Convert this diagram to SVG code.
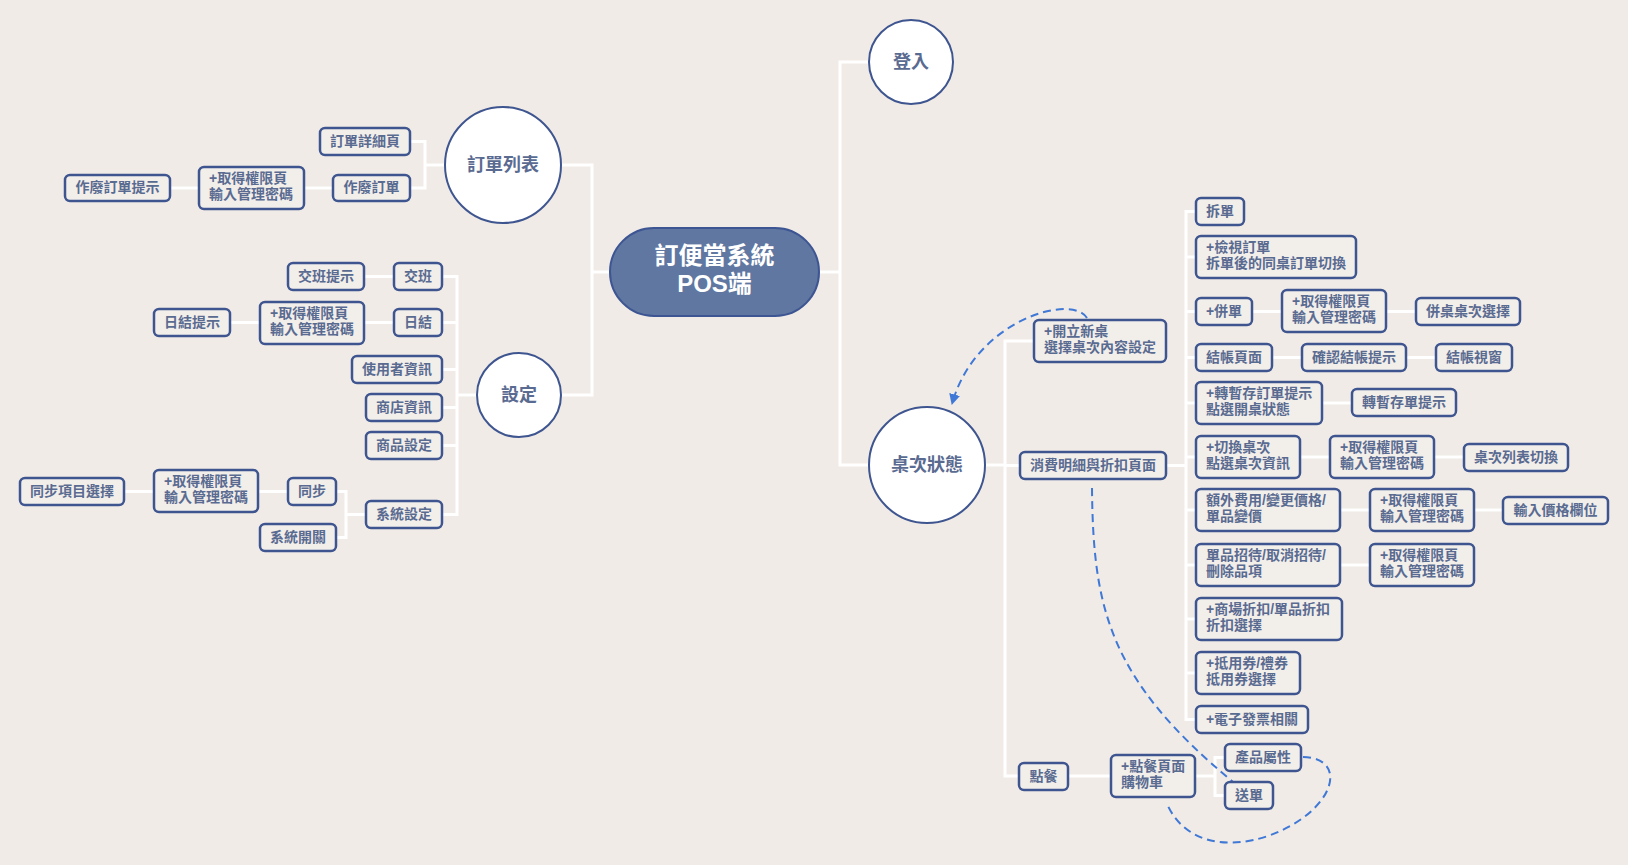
<svg xmlns="http://www.w3.org/2000/svg" width="1628" height="865" viewBox="0 0 1628 865">
<style>
.bg{fill:#f0ebe6}
.conn path{stroke:#ffffff;stroke-width:3;fill:none}
.rel path.dash{stroke:#3f78d6;stroke-width:2;fill:none;stroke-dasharray:8 5}
.box rect{fill:#f2efeb;stroke:#3e5590;stroke-width:2.5}
.cir circle{fill:#ffffff;stroke:#3e5590;stroke-width:2}
text{font-family:"Liberation Sans","Noto Sans CJK TC","Noto Sans CJK SC",sans-serif;font-weight:bold;fill:#5a6b91}
.t{font-size:14px}
.m{text-anchor:middle}
.ct{font-size:18px;text-anchor:middle}
.mt{font-size:24px;text-anchor:middle;fill:#ffffff}
</style>
<defs>
<marker id="arr" viewBox="0 0 10 10" refX="9" refY="5" markerWidth="11" markerHeight="11" orient="auto" markerUnits="userSpaceOnUse">
<path d="M0,0 L10,5 L0,10 z" fill="#3f78d6"/>
</marker>
</defs>
<rect class="bg" x="0" y="0" width="1628" height="865"/>

<g class="conn" id="connectors">
<path d="M561,165 H592 V395 H561"/>
<path d="M610,272 H592"/>
<path d="M445,165 H425"/>
<path d="M410,141.5 H425 V188 H410"/>
<path d="M333,188 H304"/>
<path d="M199,188 H170"/>
<path d="M477,395 H457"/>
<path d="M442,276.5 H457 V514.5 H442"/>
<path d="M442,322.5 H457"/>
<path d="M442,369.5 H457"/>
<path d="M442,407.5 H457"/>
<path d="M442,445.5 H457"/>
<path d="M364,276.5 H394"/>
<path d="M230,322.5 H260"/>
<path d="M364,322.5 H394"/>
<path d="M366,514.5 H346"/>
<path d="M336,491.5 H346 V537.5 H336"/>
<path d="M258,491.5 H288"/>
<path d="M124,491.5 H154"/>
<path d="M869,62 H840 V465 H869"/>
<path d="M819,272 H840"/>
<path d="M985,465 H1005"/>
<path d="M1034,341 H1005 V776 H1019"/>
<path d="M1020,465.5 H1005"/>
<path d="M1166,465.5 H1186"/>
<path d="M1196,211.5 H1186 V719.5 H1196"/>
<path d="M1186,257 H1196"/>
<path d="M1186,311.5 H1196"/>
<path d="M1186,357.5 H1196"/>
<path d="M1186,403 H1196"/>
<path d="M1186,457 H1196"/>
<path d="M1186,510 H1196"/>
<path d="M1186,565 H1196"/>
<path d="M1186,619 H1196"/>
<path d="M1186,673 H1196"/>
<path d="M1252,311.5 H1282"/>
<path d="M1386,311.5 H1416"/>
<path d="M1272,357.5 H1302"/>
<path d="M1406,357.5 H1436"/>
<path d="M1322,403 H1352"/>
<path d="M1300,457 H1330"/>
<path d="M1434,457 H1464"/>
<path d="M1340,510 H1370"/>
<path d="M1474,510 H1503"/>
<path d="M1340,565 H1370"/>
<path d="M1068,776 H1111"/>
<path d="M1195,776 H1215"/>
<path d="M1225,757.5 H1215 V795.5 H1225"/>
</g>

<g class="rel" id="relations">
<path class="dash" d="M1087,318 C1072,293 975,320 952,404" marker-end="url(#arr)"/>
<path class="dash" d="M1092,488 C1093,610 1110,680 1233,782"/>
<path class="dash" d="M1303,757 C1350,758 1335,812 1268,836 C1220,852 1183,838 1168,806"/>
</g>

<g id="main">
<rect x="610" y="228" width="209" height="88" rx="44" fill="#5f77a1" stroke="#3d5592" stroke-width="2"/>
<text class="mt" x="714.5" y="264">訂便當系統<tspan x="714.5" dy="28">POS端</tspan></text>
</g>

<g id="n-orderlist" class="cir"><circle cx="503" cy="165" r="58"/><text class="ct" x="503" y="171">訂單列表</text></g>
<g id="n-settings" class="cir"><circle cx="519" cy="395" r="42"/><text class="ct" x="519" y="401">設定</text></g>
<g id="n-login" class="cir"><circle cx="911" cy="62" r="42"/><text class="ct" x="911" y="68">登入</text></g>
<g id="n-table" class="cir"><circle cx="927" cy="465" r="58"/><text class="ct" x="927" y="471">桌次狀態</text></g>

<g id="n-orderdetail" class="box"><rect x="320" y="128" width="90" height="27" rx="5"/><text class="t m" x="365" y="146">訂單詳細頁</text></g>
<g id="n-void" class="box"><rect x="333" y="175" width="77" height="26" rx="5"/><text class="t m" x="371.5" y="192">作廢訂單</text></g>
<g id="n-void-auth" class="box"><rect x="199" y="167" width="105" height="42" rx="5"/><text class="t" x="209" y="183">+取得權限頁<tspan x="209" dy="16">輸入管理密碼</tspan></text></g>
<g id="n-void-hint" class="box"><rect x="65" y="175" width="105" height="26" rx="5"/><text class="t m" x="117.5" y="192">作廢訂單提示</text></g>

<g id="n-shift" class="box"><rect x="394" y="263" width="48" height="27" rx="5"/><text class="t m" x="418" y="281">交班</text></g>
<g id="n-shift-hint" class="box"><rect x="288" y="263" width="76" height="27" rx="5"/><text class="t m" x="326" y="281">交班提示</text></g>
<g id="n-daily" class="box"><rect x="394" y="309" width="48" height="27" rx="5"/><text class="t m" x="418" y="327">日結</text></g>
<g id="n-daily-auth" class="box"><rect x="260" y="302" width="104" height="42" rx="5"/><text class="t" x="270" y="318">+取得權限頁<tspan x="270" dy="16">輸入管理密碼</tspan></text></g>
<g id="n-daily-hint" class="box"><rect x="154" y="309" width="76" height="27" rx="5"/><text class="t m" x="192" y="327">日結提示</text></g>
<g id="n-user" class="box"><rect x="352" y="356" width="90" height="27" rx="5"/><text class="t m" x="397" y="374">使用者資訊</text></g>
<g id="n-store" class="box"><rect x="366" y="394" width="76" height="27" rx="5"/><text class="t m" x="404" y="412">商店資訊</text></g>
<g id="n-product" class="box"><rect x="366" y="432" width="76" height="27" rx="5"/><text class="t m" x="404" y="450">商品設定</text></g>
<g id="n-system" class="box"><rect x="366" y="501" width="76" height="27" rx="5"/><text class="t m" x="404" y="519">系統設定</text></g>
<g id="n-sync" class="box"><rect x="288" y="478" width="48" height="27" rx="5"/><text class="t m" x="312" y="496">同步</text></g>
<g id="n-switch" class="box"><rect x="260" y="524" width="76" height="27" rx="5"/><text class="t m" x="298" y="542">系統開關</text></g>
<g id="n-sync-auth" class="box"><rect x="154" y="470" width="104" height="42" rx="5"/><text class="t" x="164" y="486">+取得權限頁<tspan x="164" dy="16">輸入管理密碼</tspan></text></g>
<g id="n-sync-select" class="box"><rect x="20" y="478" width="104" height="27" rx="5"/><text class="t m" x="72" y="496">同步項目選擇</text></g>

<g id="n-newtable" class="box"><rect x="1034" y="320" width="132" height="42" rx="5"/><text class="t" x="1044" y="336">+開立新桌<tspan x="1044" dy="16">選擇桌次內容設定</tspan></text></g>
<g id="n-detail" class="box"><rect x="1020" y="452" width="146" height="27" rx="5"/><text class="t m" x="1093" y="470">消費明細與折扣頁面</text></g>
<g id="n-order" class="box"><rect x="1019" y="763" width="49" height="27" rx="5"/><text class="t m" x="1043.5" y="781">點餐</text></g>
<g id="n-cart" class="box"><rect x="1111" y="755" width="84" height="42" rx="5"/><text class="t" x="1121" y="771">+點餐頁面<tspan x="1121" dy="16">購物車</tspan></text></g>
<g id="n-attr" class="box"><rect x="1225" y="744" width="76" height="27" rx="5"/><text class="t m" x="1263" y="762">產品屬性</text></g>
<g id="n-send" class="box"><rect x="1225" y="782" width="48" height="27" rx="5"/><text class="t m" x="1249" y="800">送單</text></g>

<g id="n-split" class="box"><rect x="1196" y="198" width="48" height="27" rx="5"/><text class="t m" x="1220" y="216">拆單</text></g>
<g id="n-view" class="box"><rect x="1196" y="236" width="160" height="42" rx="5"/><text class="t" x="1206" y="252">+檢視訂單<tspan x="1206" dy="16">拆單後的同桌訂單切換</tspan></text></g>
<g id="n-merge" class="box"><rect x="1196" y="298" width="56" height="27" rx="5"/><text class="t m" x="1224" y="316">+併單</text></g>
<g id="n-merge-auth" class="box"><rect x="1282" y="290" width="104" height="42" rx="5"/><text class="t" x="1292" y="306">+取得權限頁<tspan x="1292" dy="16">輸入管理密碼</tspan></text></g>
<g id="n-merge-select" class="box"><rect x="1416" y="298" width="104" height="27" rx="5"/><text class="t m" x="1468" y="316">併桌桌次選擇</text></g>
<g id="n-checkout" class="box"><rect x="1196" y="344" width="76" height="27" rx="5"/><text class="t m" x="1234" y="362">結帳頁面</text></g>
<g id="n-checkout-confirm" class="box"><rect x="1302" y="344" width="104" height="27" rx="5"/><text class="t m" x="1354" y="362">確認結帳提示</text></g>
<g id="n-checkout-win" class="box"><rect x="1436" y="344" width="76" height="27" rx="5"/><text class="t m" x="1474" y="362">結帳視窗</text></g>
<g id="n-hold" class="box"><rect x="1196" y="382" width="126" height="42" rx="5"/><text class="t" x="1206" y="398">+轉暫存訂單提示<tspan x="1206" dy="16">點選開桌狀態</tspan></text></g>
<g id="n-hold-hint" class="box"><rect x="1352" y="389" width="104" height="27" rx="5"/><text class="t m" x="1404" y="407">轉暫存單提示</text></g>
<g id="n-change" class="box"><rect x="1196" y="436" width="104" height="42" rx="5"/><text class="t" x="1206" y="452">+切換桌次<tspan x="1206" dy="16">點選桌次資訊</tspan></text></g>
<g id="n-change-auth" class="box"><rect x="1330" y="436" width="104" height="42" rx="5"/><text class="t" x="1340" y="452">+取得權限頁<tspan x="1340" dy="16">輸入管理密碼</tspan></text></g>
<g id="n-change-list" class="box"><rect x="1464" y="444" width="104" height="27" rx="5"/><text class="t m" x="1516" y="462">桌次列表切換</text></g>
<g id="n-extra" class="box"><rect x="1196" y="489" width="144" height="42" rx="5"/><text class="t" x="1206" y="505">額外費用/變更價格/<tspan x="1206" dy="16">單品變價</tspan></text></g>
<g id="n-extra-auth" class="box"><rect x="1370" y="489" width="104" height="42" rx="5"/><text class="t" x="1380" y="505">+取得權限頁<tspan x="1380" dy="16">輸入管理密碼</tspan></text></g>
<g id="n-price" class="box"><rect x="1503" y="497" width="105" height="27" rx="5"/><text class="t m" x="1555.5" y="515">輸入價格欄位</text></g>
<g id="n-comp" class="box"><rect x="1196" y="544" width="144" height="42" rx="5"/><text class="t" x="1206" y="560">單品招待/取消招待/<tspan x="1206" dy="16">刪除品項</tspan></text></g>
<g id="n-comp-auth" class="box"><rect x="1370" y="544" width="104" height="42" rx="5"/><text class="t" x="1380" y="560">+取得權限頁<tspan x="1380" dy="16">輸入管理密碼</tspan></text></g>
<g id="n-discount" class="box"><rect x="1196" y="598" width="146" height="42" rx="5"/><text class="t" x="1206" y="614">+商場折扣/單品折扣<tspan x="1206" dy="16">折扣選擇</tspan></text></g>
<g id="n-voucher" class="box"><rect x="1196" y="652" width="104" height="42" rx="5"/><text class="t" x="1206" y="668">+抵用券/禮券<tspan x="1206" dy="16">抵用券選擇</tspan></text></g>
<g id="n-einvoice" class="box"><rect x="1196" y="706" width="112" height="27" rx="5"/><text class="t m" x="1252" y="724">+電子發票相關</text></g>
</svg>
